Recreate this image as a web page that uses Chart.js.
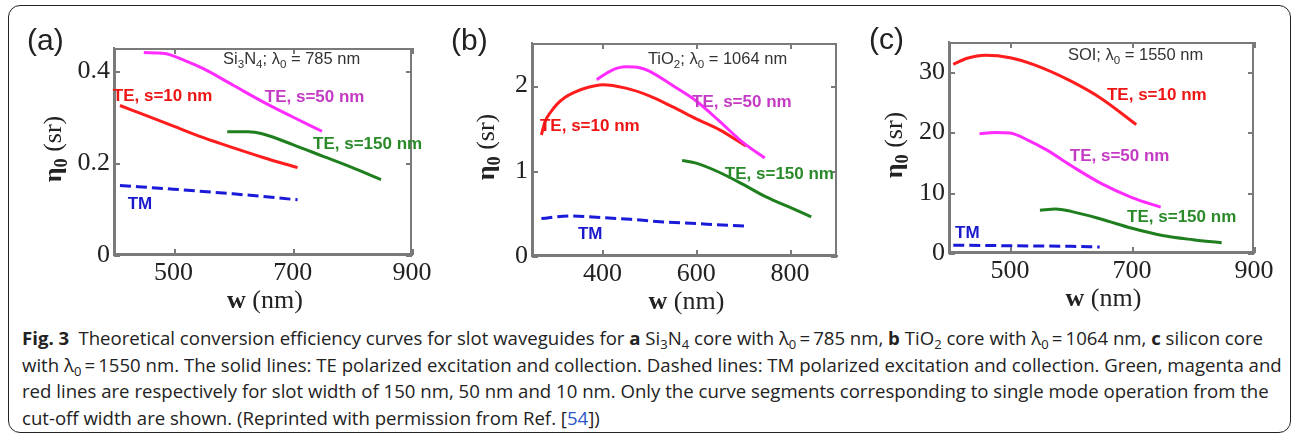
<!DOCTYPE html>
<html>
<head>
<meta charset="utf-8">
<script src="https://cdn.jsdelivr.net/npm/chart.js@4.4.0/dist/chart.umd.min.js"></script>
<style>
  html, body { margin: 0; padding: 0; background: #fff; }
  body { width: 1294px; height: 437px; position: relative; overflow: hidden; font-family: "Liberation Sans", Arial, sans-serif; }
  .frame { position: absolute; left: 8px; top: 5px; width: 1283px; height: 428px; box-sizing: border-box; border: 1.4px solid #222; border-radius: 12px; }
  canvas.panel { position: absolute; z-index: 1; }
  .axbox { position: absolute; z-index: 2; box-sizing: border-box; border: 2px solid #7a7a7a; }
  .tk { position: absolute; z-index: 2; background: #7a7a7a; }
  .plabel { position: absolute; font-size: 30px; color: #222; line-height: 1; transform: translateY(-50%); z-index: 3; }
  .xtitle, .ytitle { position: absolute; z-index: 3; font-family: "Liberation Serif", "Times New Roman", serif; font-size: 26px; color: #222; white-space: nowrap; line-height: 1; }
  .ytitle { transform: translate(-50%, -50%) rotate(-90deg); }
  .xtitle { transform: translate(-50%, -50%); }
  .ann { position: absolute; z-index: 3; white-space: nowrap; transform: translateY(-50%); line-height: 1; }
  .curve { font-weight: bold; font-size: 17px; }
  .head { font-size: 16.5px; color: #333; }
  sub { font-size: 0.7em; vertical-align: -0.35em; line-height: 0; }
  .caption { position: absolute; left: 22px; top: 325px; font-family: "Open Sans", sans-serif; font-size: 17.5px; line-height: 26.6px; color: #222; transform-origin: left top; white-space: nowrap; }
  .caption span.ln { display: inline-block; }
  .caption a { color: #2b56c8; text-decoration: none; }
</style>
</head>
<body>
<div class="frame"></div>
<canvas id="ca" class="panel"></canvas>
<canvas id="cb" class="panel"></canvas>
<canvas id="cc" class="panel"></canvas>

<div class="caption" id="caption">
<span class="ln" id="ln1"><b>Fig. 3</b>&ensp;Theoretical conversion efficiency curves for slot waveguides for <b>a</b> Si<sub>3</sub>N<sub>4</sub> core with λ<sub>0</sub>&thinsp;=&thinsp;785 nm, <b>b</b> TiO<sub>2</sub> core with λ<sub>0</sub>&thinsp;=&thinsp;1064 nm, <b>c</b> silicon core</span><br>
<span class="ln">with λ<sub>0</sub>&thinsp;=&thinsp;1550 nm. The solid lines: TE polarized excitation and collection. Dashed lines: TM polarized excitation and collection. Green, magenta and</span><br>
<span class="ln">red lines are respectively for slot width of 150 nm, 50 nm and 10 nm. Only the curve segments corresponding to single mode operation from the</span><br>
<span class="ln">cut-off width are shown. (Reprinted with permission from Ref. [<a>54</a>])</span>
</div>

<script>
// ---- data ----
// (a) Si3N4, lambda0 = 785 nm
const aW_te10  = [410, 450, 500, 550, 600, 650, 708];
const aEta_te10 = [0.325, 0.305, 0.28, 0.255, 0.233, 0.212, 0.19];
const aW_te50  = [450, 485, 520, 550, 600, 650, 700, 749];
const aEta_te50 = [0.44, 0.438, 0.422, 0.405, 0.369, 0.333, 0.3, 0.269];
const aW_te150 = [590, 625, 650, 700, 750, 800, 848];
const aEta_te150 = [0.268, 0.268, 0.263, 0.24, 0.215, 0.19, 0.164];
const aW_tm   = [410, 500, 600, 708];
const aEta_tm  = [0.151, 0.143, 0.133, 0.12];

// (b) TiO2, lambda0 = 1064 nm
const bW_te10  = [270, 278, 290, 303, 320, 340, 370, 400, 450, 500, 550, 600, 650, 706];
const bEta_te10 = [1.42, 1.58, 1.69, 1.78, 1.86, 1.92, 1.98, 2.01, 1.97, 1.88, 1.75, 1.61, 1.48, 1.29];
const bW_te50  = [388, 420, 450, 480, 500, 550, 600, 650, 700, 746];
const bEta_te50 = [2.07, 2.18, 2.22, 2.21, 2.17, 2.0, 1.82, 1.58, 1.33, 1.15];
const bW_te150 = [570, 600, 650, 700, 750, 800, 845];
const bEta_te150 = [1.12, 1.09, 0.98, 0.84, 0.69, 0.57, 0.46];
const bW_tm   = [270, 330, 400, 460, 530, 600, 706];
const bEta_tm  = [0.44, 0.47, 0.45, 0.43, 0.40, 0.38, 0.35];

// (c) SOI, lambda0 = 1550 nm
const cW_te10  = [407, 430, 460, 500, 540, 600, 650, 707];
const cEta_te10 = [31.3, 32.3, 32.8, 32.4, 31.2, 28.5, 25.6, 21.3];
const cW_te50  = [450, 475, 500, 530, 560, 600, 650, 700, 747];
const cEta_te50 = [19.8, 20.0, 19.9, 18.7, 17.1, 14.5, 11.5, 9.2, 7.6];
const cW_te150 = [549, 575, 600, 650, 700, 750, 800, 847];
const cEta_te150 = [7.1, 7.3, 6.9, 5.6, 4.1, 2.9, 2.2, 1.7];
const cW_tm   = [407, 500, 600, 647];
const cEta_tm  = [1.3, 1.2, 1.1, 1.0];

// tick labels
const aXTicks = [500, 700, 900], aYTicks = [0, 0.2, 0.4];
const bXTicks = [400, 600, 800], bYTicks = [0, 1, 2];
const cXTicks = [500, 700, 900], cYTicks = [0, 10, 20, 30];

const RED = '#ff1c1c', MAG = '#ff2cff', GRN = '#1f7f1f', BLU = '#1a1ad8';
const AXC = '#7a7a7a';

function pts(w, e) { return w.map((v, i) => ({x: v, y: e[i]})); }

function add(cls, html, x, y) {
  const d = document.createElement('div');
  d.className = cls; d.innerHTML = html;
  d.style.left = x + 'px'; d.style.top = y + 'px';
  document.body.appendChild(d);
  return d;
}

// matlab-like box with inward ticks, laid over the chart area
function boxTicks(chart, ox, oy) {
  const a = chart.chartArea, xs = chart.scales.x, ys = chart.scales.y;
  const L = ox + Math.round(a.left), T = oy + Math.round(a.top);
  const W = Math.round(a.right) - Math.round(a.left), H = Math.round(a.bottom) - Math.round(a.top);
  const b = add('axbox', '', L, T);
  b.style.width = W + 'px'; b.style.height = H + 'px';
  const tick = (x, y, w, h) => {
    const t = add('tk', '', x, y);
    t.style.width = w + 'px'; t.style.height = h + 'px';
  };
  xs.ticks.forEach(t => {
    const p = ox + Math.round(xs.getPixelForValue(t.value));
    tick(p, T, 1.5, 6); tick(p, T + H - 6, 1.5, 6);
  });
  ys.ticks.forEach(t => {
    const p = oy + Math.round(ys.getPixelForValue(t.value));
    tick(L, p, 6, 1.5); tick(L + W - 6, p, 6, 1.5);
  });
}

function makePanel(p) {
  const cv = document.getElementById(p.id);
  cv.width = p.box.w; cv.height = p.box.h;
  cv.style.left = p.box.x + 'px'; cv.style.top = p.box.y + 'px';
  cv.style.width = p.box.w + 'px'; cv.style.height = p.box.h + 'px';
  const xH = 40;
  const tickFont = {family: '"Liberation Serif", "Times New Roman", serif', size: 26};
  const chart = new Chart(cv, {
    type: 'line',
    data: {
      datasets: p.series.map(s => ({
        data: pts(s.w, s.eta),
        borderColor: s.color,
        borderWidth: 3,
        borderDash: s.dash || [],
        pointRadius: 0,
        fill: false,
        cubicInterpolationMode: 'monotone'
      }))
    },
    options: {
      responsive: false,
      animation: false,
      events: [],
      layout: {padding: {
        left: 0,
        top: p.area.t - p.box.y,
        right: p.box.x + p.box.w - p.area.r,
        bottom: p.box.y + p.box.h - p.area.b - xH
      }},
      plugins: {legend: {display: false}, tooltip: {enabled: false}},
      scales: {
        x: {
          type: 'linear', min: p.xr[0], max: p.xr[1],
          grid: {display: false, drawTicks: false},
          border: {display: true, color: AXC, width: 2},
          afterBuildTicks: s => { s.ticks = p.xt.map(v => ({value: v})); },
          afterFit: s => { s.height = xH; },
          ticks: {font: tickFont, color: '#222', padding: 3, maxRotation: 0, callback: v => String(v)}
        },
        y: {
          type: 'linear', min: p.yr[0], max: p.yr[1],
          grid: {display: false, drawTicks: false},
          border: {display: true, color: AXC, width: 2},
          afterBuildTicks: s => { s.ticks = p.yt.map(v => ({value: v})); },
          afterFit: s => { s.width = p.area.l - p.box.x; },
          ticks: {font: tickFont, color: '#222', padding: 4, callback: v => String(v)}
        }
      }
    }
  });

  boxTicks(chart, p.box.x, p.box.y);

  // panel letter, axis titles
  add('plabel', p.letter, p.letterPos[0], p.letterPos[1]);
  add('xtitle', '<b>w</b> (nm)', (p.area.l + p.area.r) / 2 + 2, p.area.b + 45);
  add('ytitle', '<b>η<sub>0</sub></b> (sr)', p.yTitleX, (p.area.t + p.area.b) / 2 - 3);

  // text notes placed through the chart scales
  const xs = chart.scales.x, ys = chart.scales.y;
  p.notes.forEach(n => {
    const d = add('ann ' + n.cls, n.html,
      p.box.x + xs.getPixelForValue(n.x), p.box.y + ys.getPixelForValue(n.y));
    if (n.color) d.style.color = n.color;
  });
  return chart;
}

makePanel({
  id: 'ca', box: {x: 10, y: 8, w: 432, h: 305}, area: {l: 114, t: 48, r: 412, b: 255},
  xr: [400, 900], yr: [0, 0.45], xt: aXTicks, yt: aYTicks,
  letter: '(a)', letterPos: [27, 40], yTitleX: 53,
  series: [
    {w: aW_te50, eta: aEta_te50, color: MAG},
    {w: aW_te10, eta: aEta_te10, color: RED},
    {w: aW_te150, eta: aEta_te150, color: GRN},
    {w: aW_tm, eta: aEta_tm, color: BLU, dash: [11, 5]}
  ],
  notes: [
    {cls: 'head', html: 'Si<sub>3</sub>N<sub>4</sub>; λ<sub>0</sub> = 785 nm', x: 583, y: 0.428},
    {cls: 'curve', html: 'TE, s=10 nm', x: 398, y: 0.348, color: '#ee1515'},
    {cls: 'curve', html: 'TE, s=50 nm', x: 653, y: 0.346, color: '#c43ac4'},
    {cls: 'curve', html: 'TE, s=150 nm', x: 734, y: 0.243, color: '#2a8a2a'},
    {cls: 'curve', html: 'TM', x: 423, y: 0.113, color: '#1a1acc'}
  ]
});

makePanel({
  id: 'cb', box: {x: 445, y: 8, w: 412, h: 305}, area: {l: 532, t: 43, r: 837, b: 256},
  xr: [250, 900], yr: [0, 2.5], xt: bXTicks, yt: bYTicks,
  letter: '(b)', letterPos: [451, 40], yTitleX: 486,
  series: [
    {w: bW_te50, eta: bEta_te50, color: MAG},
    {w: bW_te10, eta: bEta_te10, color: RED},
    {w: bW_te150, eta: bEta_te150, color: GRN},
    {w: bW_tm, eta: bEta_tm, color: BLU, dash: [11, 5]}
  ],
  notes: [
    {cls: 'head', html: 'TiO<sub>2</sub>; λ<sub>0</sub> = 1064 nm', x: 497, y: 2.32},
    {cls: 'curve', html: 'TE, s=50 nm', x: 591, y: 1.82, color: '#c43ac4'},
    {cls: 'curve', html: 'TE, s=10 nm', x: 267, y: 1.54, color: '#ee1515'},
    {cls: 'curve', html: 'TE, s=150 nm', x: 661, y: 0.98, color: '#2a8a2a'},
    {cls: 'curve', html: 'TM', x: 348, y: 0.27, color: '#1a1acc'}
  ]
});

makePanel({
  id: 'cc', box: {x: 862, y: 8, w: 426, h: 305}, area: {l: 949, t: 42, r: 1254, b: 253},
  xr: [400, 900], yr: [0, 35], xt: cXTicks, yt: cYTicks,
  letter: '(c)', letterPos: [869, 39], yTitleX: 894,
  series: [
    {w: cW_te10, eta: cEta_te10, color: RED},
    {w: cW_te50, eta: cEta_te50, color: MAG},
    {w: cW_te150, eta: cEta_te150, color: GRN},
    {w: cW_tm, eta: cEta_tm, color: BLU, dash: [11, 5]}
  ],
  notes: [
    {cls: 'head', html: 'SOI; λ<sub>0</sub> = 1550 nm', x: 595, y: 33.0},
    {cls: 'curve', html: 'TE, s=10 nm', x: 659, y: 26.3, color: '#ee1515'},
    {cls: 'curve', html: 'TE, s=50 nm', x: 598, y: 16.3, color: '#c43ac4'},
    {cls: 'curve', html: 'TE, s=150 nm', x: 692, y: 6.2, color: '#2a8a2a'},
    {cls: 'curve', html: 'TM', x: 410, y: 3.5, color: '#1a1acc'}
  ]
});

// squeeze caption to the reference line length
const cap = document.getElementById('caption');
const w1 = document.getElementById('ln1').getBoundingClientRect().width;
cap.style.transform = 'scaleX(' + (1241 / w1) + ')';
</script>
</body>
</html>
